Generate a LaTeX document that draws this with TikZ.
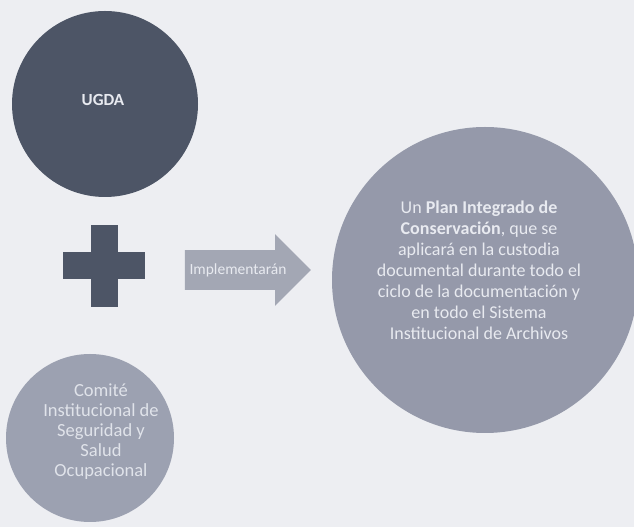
\documentclass[tikz,border=0pt]{standalone}
\usepackage{fontspec}
\setmainfont{Carlito}
\usetikzlibrary{shapes.arrows}
\usetikzlibrary{positioning}

\definecolor{paper}{HTML}{EDEEF2}
\definecolor{slate}{HTML}{4D5566}
\definecolor{mist}{HTML}{9CA1B1}
\definecolor{fog}{HTML}{9599AA}
\definecolor{haze}{HTML}{A3A7B4}
\definecolor{chalk}{HTML}{E8EAF0}

\begin{document}
\begin{tikzpicture}[
    x=1pt, y=1pt,
    disc/.style={circle, draw=none, inner sep=0pt},
    darkdisc/.style={disc, fill=slate, minimum size=186pt},
    lightdisc/.style={disc, fill=mist, minimum size=168pt},
    bigdisc/.style={disc, fill=fog, minimum size=306pt},
    bar/.style={rectangle, fill=slate, inner sep=0pt},
    bigarrow/.style={single arrow, fill=haze, draw=none, minimum height=126pt,
        single arrow head extend=16pt, single arrow head indent=0pt,
        inner xsep=3pt, inner ysep=13pt},
    every node/.style={text=chalk, align=center}
    ]

    \useasboundingbox[fill=paper] (0,0) rectangle (634,527);

    % Nodes
    \node[darkdisc] (ugda) at (105,423) {};
    \node[font=\bfseries\fontsize{17}{19}\selectfont] (ugdatext) at (103,427) {UGDA};

    \node[bar, minimum width=82pt, minimum height=27pt] (plush) at (104,261) {};
    \node[bar, minimum width=27pt, minimum height=82pt] (plusv) at (104,261) {};

    \node[lightdisc] (comite) at (90,89) {};
    \node[font=\fontsize{18.5}{20}\selectfont, text=chalk!90!mist] (comitetext)
        at (101,95)
        {Comité\\Institucional de\\Seguridad y\\Salud\\Ocupacional};

    \node[bigarrow, font=\fontsize{15.5}{17}\selectfont] (impl) at (238,257) {Implementarán};

    \node[bigdisc] (plan) at (485,247) {};
    \node[font=\fontsize{18}{21}\selectfont] (plantext) at ([xshift=-6pt, yshift=10pt]plan.center)
        {Un \textbf{Plan Integrado de}\\\textbf{Conservación}, que se\\aplicará en la custodia\\
        documental durante todo el\\ciclo de la documentación y\\en todo el Sistema\\
        Institucional de Archivos};

\end{tikzpicture}
\end{document}
